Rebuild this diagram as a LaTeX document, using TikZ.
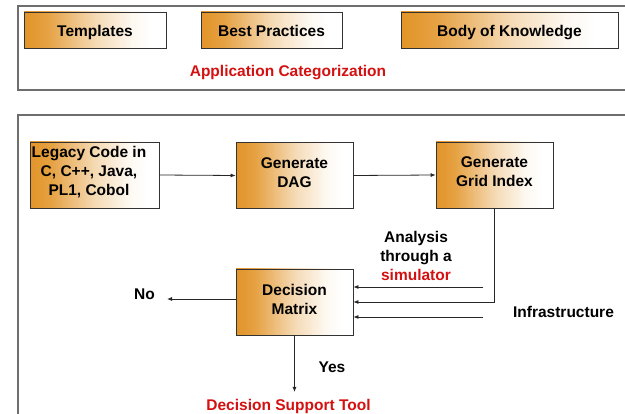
\documentclass[tikz,border=0pt]{standalone}
\usepackage{fontspec}
\setmainfont{Liberation Sans}
\usetikzlibrary{arrows.meta}
\definecolor{boxorange}{RGB}{226,148,40}
\definecolor{labelred}{RGB}{212,16,16}
\definecolor{framegray}{RGB}{110,110,110}
% left-to-right fade; the node fills the 25bp..75bp band of the shading
\pgfdeclarehorizontalshading{boxfade}{100bp}{%
  color(0bp)=(boxorange);
  color(25bp)=(boxorange);
  color(33bp)=(boxorange!88!white);
  color(50bp)=(boxorange!35!white);
  color(63bp)=(boxorange!7!white);
  color(70bp)=(white);
  color(100bp)=(white)}
\begin{document}
\begin{tikzpicture}[x=1pt,y=-1pt,
  every node/.style={font=\fontsize{15.5}{19}\selectfont\bfseries, inner sep=0pt},
  fadebox/.style={draw=black!80, line width=0.8pt, shading=boxfade,
    minimum width=#1, minimum height=66pt, align=center, text depth=6pt},
  fadebox/.default=117pt,
  toprow/.style={fadebox=#1, minimum height=36pt, text height=14pt, text depth=0pt},
  frame/.style={draw=framegray, line width=1.1pt},
  flow/.style={draw=black!85, line width=0.8pt, -{Latex[length=5pt,width=4pt]}},
  redtext/.style={text=labelred},
  plain/.style={align=center}]
\useasboundingbox (0,0) rectangle (625,414);

% upper panel: categorisation sources
\draw[frame] (18,6) rectangle (628,90);
\node[toprow=142pt] (templates) at (95,30) {Templates};
\node[toprow=141pt] (practices) at (271.5,30) {Best Practices};
\node[toprow=217pt] (knowledge) at (509.5,30) {Body of Knowledge};
\node[redtext] (appcat) at (288,73) {Application Categorization};

% lower panel: processing flow
\draw[frame] (18,115) rectangle (630,420);
\node[fadebox=129pt] (legacy) at (94.5,175) {};
\node[plain] (legacytext) at (89,172) {Legacy Code in\\C, C++, Java,\\PL1, Cobol};
\node[fadebox] (dag) at (294.5,175.5) {Generate\\DAG};
\node[fadebox] (grid) at (494.5,175) {Generate\\Grid Index};
\node[fadebox] (matrix) at (294.5,302) {Decision\\Matrix};

\node[plain] (analysis) at (416,256) {Analysis\\through a\\\textcolor{labelred}{simulator}};
\node (infra) at (563.5,312) {Infrastructure};
\node (no) at (144.5,294) {No};
\node (yes) at (332,367) {Yes};
\node[redtext] (support) at (288.5,406) {Decision Support Tool};

\coordinate (simin) at (483,287);
\coordinate (infrain) at (483,317);
\coordinate (noend) at (167,299);
\coordinate (yesend) at (294.5,392);

\draw[flow] (legacy.east) -- (dag.west);
\draw[flow] (dag.east) -- (grid.west);
\draw[flow] (grid.south) -- (grid.south |- matrix.east) -- (matrix.east);
\draw[flow] (simin) -- (matrix.east |- simin);
\draw[flow] (infrain) -- (matrix.east |- infrain);
\draw[flow] (matrix.west |- noend) -- (noend);
\draw[flow] (matrix.south) -- (yesend);
\end{tikzpicture}
\end{document}
